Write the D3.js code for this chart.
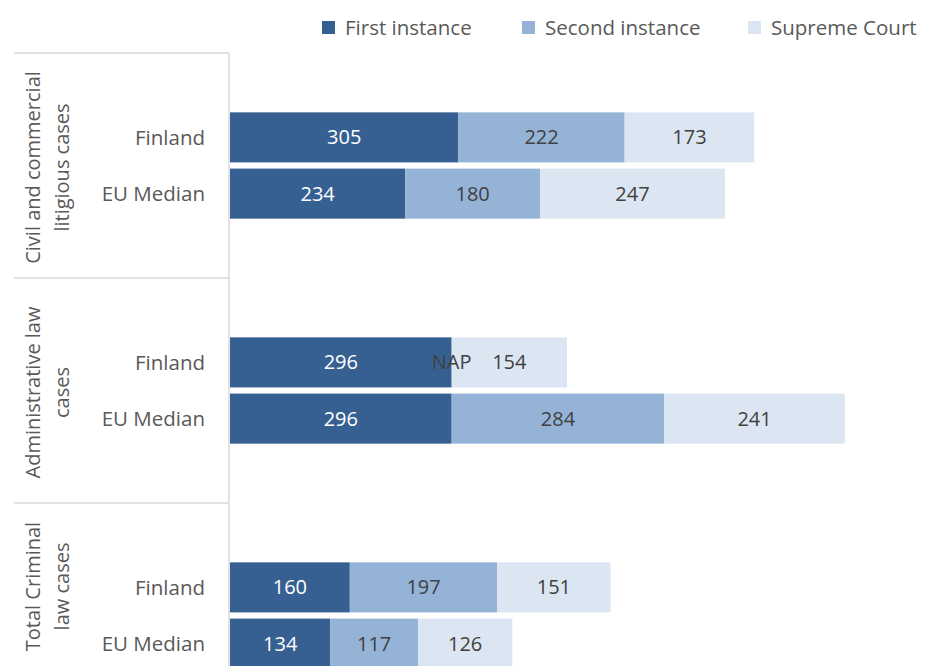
<!DOCTYPE html>
<html><head><meta charset="utf-8">
<script src="https://cdn.jsdelivr.net/npm/d3@7"></script>
<style>body{margin:0;background:#fff}svg{display:block}text{font-family:"Open Sans",sans-serif}</style>
</head><body>
<script>
const groups = [["Civil and commercial","litigious cases"],["Administrative law","cases"],["Total Criminal","law cases"]];
const categories = ["Finland","EU Median"];
const series = ["First instance","Second instance","Supreme Court"];
const firstInstance  = [305,234,296,296,160,134];
const secondInstance = [222,180,null,284,197,117];
const supremeCourt   = [173,247,154,241,151,126];
const colors = ["#376092","#95B3D7","#DCE6F2"];
const labelColors = ["#ffffff","#404040","#404040"];

const W=936,H=666;
const svg=d3.select("body").append("svg").attr("width",W).attr("height",H);
const x=d3.scaleLinear().domain([0,900]).range([230,230+674]);
const groupTop=53, groupH=225;
const gy=d3.scaleBand().domain(d3.range(groups.length)).range([groupTop,groupTop+groupH*groups.length]);
const slot=d3.scaleBand().domain([0,1,2,3]).range([0,groupH]).paddingInner(0.11).paddingOuter(0.055);

const gridC="#d9d9d9";
groups.forEach((g,i)=>{
  svg.append("line").attr("x1",14).attr("x2",x(0)-1).attr("y1",gy(i)).attr("y2",gy(i)).attr("stroke",gridC).attr("stroke-width",1.5);
});
svg.append("line").attr("x1",x(0)-1).attr("x2",x(0)-1).attr("y1",groupTop).attr("y2",H).attr("stroke",gridC).attr("stroke-width",1.5);

const rows=[];
groups.forEach((g,gi)=>categories.forEach((c,ci)=>{
  const k=gi*2+ci;
  rows.push({g:gi,c:ci,name:c,vals:[firstInstance[k],secondInstance[k],supremeCourt[k]]});
}));

const labels=[];
rows.forEach(r=>{
  const y0=gy(r.g)+slot(r.c+1), h=slot.bandwidth();
  let acc=0;
  r.vals.forEach((v,si)=>{
    const val=v==null?0:v;
    const x0=x(acc), x1=x(acc+val);
    if(val>0) svg.append("rect").attr("x",x0).attr("y",y0).attr("width",x1-x0).attr("height",h).attr("fill",colors[si]);
    labels.push({x:(x0+x1)/2,y:y0+h/2,fill:v==null?"#404040":labelColors[si],t:v==null?"NAP":v});
    acc+=val;
  });
  svg.append("text").attr("x",205).attr("y",y0+h/2).attr("dy","0.35em").attr("text-anchor","end")
    .attr("font-size",20.5).attr("fill","#595959").text(r.name);
});
labels.forEach(l=>{
  svg.append("text").attr("x",l.x).attr("y",l.y).attr("dy","0.35em").attr("text-anchor","middle")
    .attr("font-size",20).attr("fill",l.fill).text(l.t);
});

groups.forEach((g,i)=>{
  const top=gy(i), bot=Math.min(gy(i)+groupH,H);
  const cy=(top+bot)/2+2;
  g.forEach((line,li)=>{
    svg.append("text").attr("transform",`translate(${33+li*29},${cy}) rotate(-90)`).attr("dy","0.35em")
      .attr("text-anchor","middle").attr("font-size",20).attr("fill","#595959").text(line);
  });
});

const legX=[322,522,748];
series.forEach((s,i)=>{
  svg.append("rect").attr("x",legX[i]).attr("y",21).attr("width",13).attr("height",13).attr("fill",colors[i]);
  svg.append("text").attr("x",legX[i]+23).attr("y",28).attr("dy","0.35em").attr("font-size",20.5).attr("fill","#595959").text(s);
});
</script>
</body></html>
